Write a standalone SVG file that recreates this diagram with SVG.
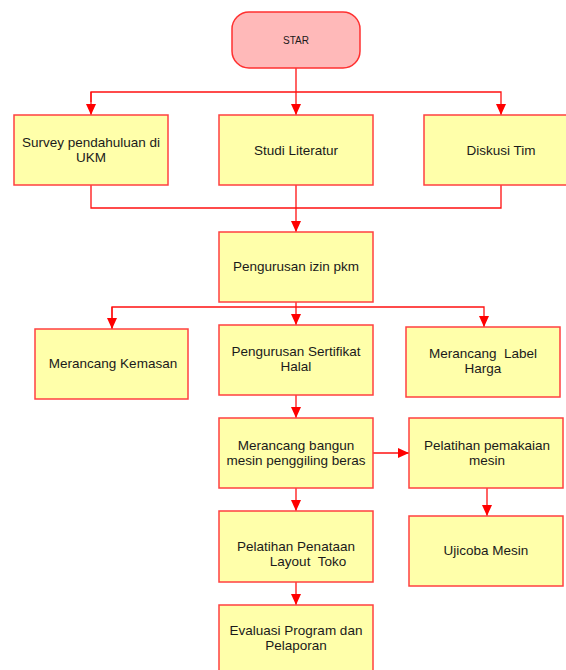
<svg xmlns="http://www.w3.org/2000/svg" width="566" height="670" viewBox="0 0 566 670">
<style>
.box{fill:#ffffaa;stroke:#ff4040;stroke-width:1.5}
.start{fill:#ffb9b9;stroke:#ff3030;stroke-width:1.5}
.t{font-family:"Liberation Sans",Arial,sans-serif;font-size:13.5px;fill:#1a1a1a;text-anchor:middle}
.s{font-family:"Liberation Sans",Arial,sans-serif;font-size:10px;fill:#1a1a1a;text-anchor:middle}
.c{fill:none;stroke:#ff1010;stroke-width:1.3}
</style>
<defs>
<marker id="a" markerWidth="12" markerHeight="10" refX="11" refY="5" orient="auto" markerUnits="userSpaceOnUse">
<path d="M0,0 L11,5 L0,10 Z" fill="#ff0000"/>
</marker>
</defs>
<rect x="0" y="0" width="566" height="670" fill="#ffffff"/>
<g id="connectors">
<path class="c" d="M296,68 V115" marker-end="url(#a)"/>
<path class="c" d="M91,102 V92 H501 V115" marker-end="url(#a)"/>
<path class="c" d="M91,92 V115" marker-end="url(#a)"/>
<path class="c" d="M91,185 V208 H501 V185"/>
<path class="c" d="M296,185 V232" marker-end="url(#a)"/>
<path class="c" d="M296,302 V325" marker-end="url(#a)"/>
<path class="c" d="M112,329 V307 H484 V327" marker-end="url(#a)"/>
<path class="c" d="M112,307 V329" marker-end="url(#a)"/>
<path class="c" d="M296,395 V418" marker-end="url(#a)"/>
<path class="c" d="M373,453 H409" marker-end="url(#a)"/>
<path class="c" d="M487,488 V516" marker-end="url(#a)"/>
<path class="c" d="M296,488 V511" marker-end="url(#a)"/>
<path class="c" d="M296,582 V605" marker-end="url(#a)"/>
</g>
<g id="star"><rect class="start" x="232" y="12" width="128" height="56" rx="17"/><text class="s" x="296" y="44">STAR</text></g>
<g id="survey"><rect class="box" x="14" y="115" width="154" height="70"/><text class="t" x="91" y="147">Survey pendahuluan di</text><text class="t" x="91" y="162">UKM</text></g>
<g id="studi"><rect class="box" x="219" y="115" width="154" height="70"/><text class="t" x="296" y="155">Studi Literatur</text></g>
<g id="diskusi"><rect class="box" x="424" y="115" width="150" height="70"/><text class="t" x="501" y="155">Diskusi Tim</text></g>
<g id="izin"><rect class="box" x="219" y="232" width="154" height="70"/><text class="t" x="296" y="271">Pengurusan izin pkm</text></g>
<g id="kemasan"><rect class="box" x="35" y="329" width="153" height="70"/><text class="t" x="113" y="368">Merancang Kemasan</text></g>
<g id="halal"><rect class="box" x="219" y="325" width="154" height="70"/><text class="t" x="296" y="356">Pengurusan Sertifikat</text><text class="t" x="296" y="371">Halal</text></g>
<g id="label"><rect class="box" x="406" y="327" width="154" height="70"/><text class="t" x="483" y="358" xml:space="preserve">Merancang  Label</text><text class="t" x="483" y="373">Harga</text></g>
<g id="mesin"><rect class="box" x="219" y="418" width="154" height="70"/><text class="t" x="296" y="450">Merancang bangun</text><text class="t" x="296" y="465">mesin penggiling beras</text></g>
<g id="pemakaian"><rect class="box" x="409" y="418" width="154" height="70"/><text class="t" x="487" y="450">Pelatihan pemakaian</text><text class="t" x="487" y="465">mesin</text></g>
<g id="penataan"><rect class="box" x="219" y="511" width="154" height="71"/><text class="t" x="296" y="551">Pelatihan Penataan</text><text class="t" x="308" y="566" xml:space="preserve">Layout  Toko</text></g>
<g id="ujicoba"><rect class="box" x="409" y="516" width="154" height="70"/><text class="t" x="486" y="555">Ujicoba Mesin</text></g>
<g id="evaluasi"><rect class="box" x="219" y="605" width="154" height="75"/><text class="t" x="296" y="635">Evaluasi Program dan</text><text class="t" x="296" y="650">Pelaporan</text></g>
</svg>
